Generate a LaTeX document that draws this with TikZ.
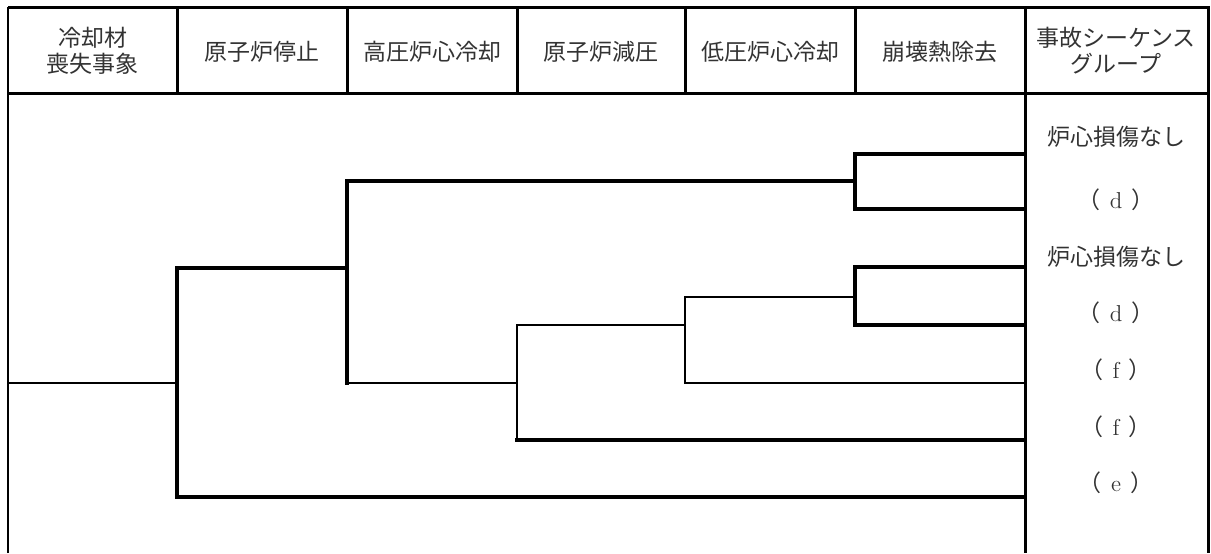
\documentclass[tikz,border=0pt]{standalone}
\usepackage{fontspec}
\newfontfamily\cjk{Noto Sans CJK JP}
\usepackage{tikz}
\usetikzlibrary{calc}
\usepackage{xcolor}
\definecolor{textgray}{HTML}{333333}

\newcommand{\grp}[1]{（\hspace{0.4em}{\rmfamily #1}\hspace{0.4em}）}

\begin{document}
\begin{tikzpicture}[
    x=0.5pt, y=-0.5pt,
    head/.style={align=center, inner sep=0pt, font=\cjk\fontsize{11.5}{13}\selectfont, text=textgray},
    outcome/.style={inner sep=0pt, font=\cjk\fontsize{11.5}{13}\selectfont, text=textgray},
    frame/.style={line width=1.5pt},
    branch/.style={line width=1.8pt, line cap=rect},
    midbranch/.style={line width=1.4pt, line cap=rect},
    thinbranch/.style={line width=1.1pt, line cap=rect}
]
\useasboundingbox (0,0) rectangle (1211,553);

% ---- Table frame ----
\draw[line width=1pt] (8,553) -- (8,7);
\draw[frame] (8,7) -- (1208,7) -- (1208,553);
\draw[frame] (8,93) -- (1208,93);
\foreach \x in {177,347,517,685,855}
    \draw[frame] (\x,7) -- (\x,93);
\draw[frame] (1025,7) -- (1025,553);

% ---- Headings ----
\node[head] (loca)    at (92.5,51) {冷却材\\喪失事象};
\node[head] (scram)   at (262,52)  {原子炉停止};
\node[head] (hpcool)  at (432,52)  {高圧炉心冷却};
\node[head] (depress) at (601,52)  {原子炉減圧};
\node[head] (lpcool)  at (770,52)  {低圧炉心冷却};
\node[head] (dhr)     at (940,52)  {崩壊熱除去};
\node[head] (group)   at (1116,51) {事故シーケンス\\グループ};

% ---- Branch points ----
\coordinate (ie) at (8,383);
\coordinate (j1) at (177,383);
\coordinate (j2) at (347,268);
\coordinate (j3) at (855,181);
\coordinate (j4) at (517,383);
\coordinate (j5) at (685,325);
\coordinate (j6) at (855,297);

% ---- Sequence ends ----
\coordinate (e1) at (1025,154);
\coordinate (e2) at (1025,209);
\coordinate (e3) at (1025,267);
\coordinate (e4) at (1025,325);
\coordinate (e5) at (1025,383);
\coordinate (e6) at (1025,440);
\coordinate (e7) at (1025,497);

% ---- Event tree: horizontal runs ----
\draw[thinbranch] (ie) -- (j1);
\draw[branch]     (j1 |- j2) -- (j2);
\draw[branch]     (j2 |- j3) -- (j3);
\draw[thinbranch] (j2 |- j4) -- (j4);
\draw[thinbranch] (j4 |- j5) -- (j5);
\draw[thinbranch] (j5 |- j6) -- (j6);
\draw[thinbranch] (j5 |- e5) -- (e5);
\draw[branch]     (j4 |- e6) -- (e6);
\draw[branch]     (j1 |- e7) -- (e7);
\foreach \e in {e1,e2,e3,e4}
    \draw[branch] (j3 |- \e) -- (\e);

% ---- Event tree: vertical splits ----
\draw[branch]     (j1 |- j2) -- (j1 |- e7);
\draw[branch]     (j2 |- j3) -- (j2 |- j4);
\draw[midbranch]  (j4 |- j5) -- (j4 |- e6);
\draw[thinbranch] (j5 |- j6) -- (j5 |- e5);
\draw[branch]     (j3 |- e1) -- (j3 |- e2);
\draw[branch]     (j6 |- e3) -- (j6 |- e4);

% ---- Sequence groups ----
\node[outcome] (o1) at (1116,137) {炉心損傷なし};
\node[outcome] (o2) at (1116,200) {\grp{d}};
\node[outcome] (o3) at (1116,257) {炉心損傷なし};
\node[outcome] (o4) at (1116,313) {\grp{d}};
\node[outcome] (o5) at (1116,370) {\grp{f}};
\node[outcome] (o6) at (1116,427) {\grp{f}};
\node[outcome] (o7) at (1116,483) {\grp{e}};

\end{tikzpicture}
\end{document}
